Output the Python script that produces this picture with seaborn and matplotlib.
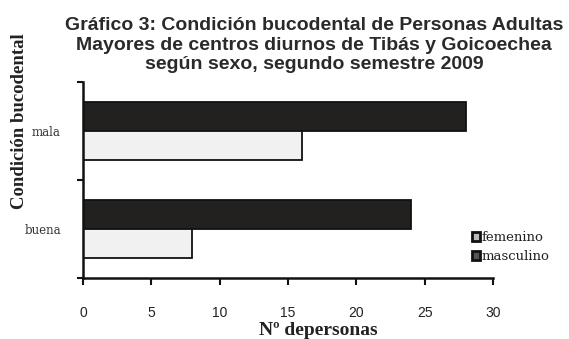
import matplotlib
matplotlib.use("Agg")
import matplotlib.pyplot as plt
from matplotlib.patches import Patch
import seaborn as sns
import pandas as pd

# Data
condiciones = ["mala", "buena"]
sexos = ["masculino", "femenino"]
masculino = [28, 24]
femenino = [16, 8]
x_ticks = [0, 5, 10, 15, 20, 25, 30]
titulo = ["Gráfico 3: Condición bucodental de Personas Adultas",
          "Mayores de centros diurnos de Tibás y Goicoechea",
          "según sexo, segundo semestre 2009"]

df = pd.DataFrame({
    "condicion": condiciones * 2,
    "sexo": ["masculino"] * 2 + ["femenino"] * 2,
    "valor": masculino + femenino,
})

sns.set_theme(style="white")
plt.rcParams["font.family"] = ["Liberation Sans", "DejaVu Sans"]

W, H = 569, 339
fig = plt.figure(figsize=(W / 100, H / 100), dpi=100)
ax = fig.add_axes([83 / W, 1 - 278 / H, (493 - 83) / W, (278 - 82) / H])

colores = {"masculino": "#231f20", "femenino": "#f1f1f1"}
sns.barplot(data=df, y="condicion", x="valor", hue="sexo",
            order=condiciones, hue_order=sexos, palette=colores,
            orient="h", width=0.6, edgecolor="#111111", linewidth=1.3,
            legend=False, ax=ax)

ax.set_xlim(0, 30)
ax.set_ylim(1.5, -0.5)
ax.set_xticks(x_ticks)
ax.set_xticklabels([str(t) for t in x_ticks], fontsize=10, color="#222222")
ax.tick_params(axis="x", length=5, width=1.5, direction="out", pad=15,
               color="#111111", bottom=True)
ax.set_yticks([0, 1])
ax.set_yticklabels(condiciones, family="DejaVu Serif", fontsize=8.5, color="#333333")
ax.tick_params(axis="y", which="major", length=0, pad=16)
ax.set_yticks([-0.5, 0.5, 1.5], minor=True)
ax.tick_params(axis="y", which="minor", length=4, width=1.5, color="#111111", left=True)

for s in ["top", "right"]:
    ax.spines[s].set_visible(False)
for s in ["left", "bottom"]:
    ax.spines[s].set_color("#111111")
    ax.spines[s].set_linewidth(1.8)

ax.set_xlabel("")
ax.set_ylabel("")
fig.text(318 / W, 1 - 335 / H, "Nº depersonas", family="Liberation Serif",
         fontweight="bold", fontsize=14, color="#222222", ha="center", va="baseline")
fig.text(20 / W, 1 - 121 / H, "Condición bucodental", rotation=90,
         family="Liberation Serif", fontweight="bold", fontsize=13.5,
         color="#222222", ha="center", va="center")

for linea, base in zip(titulo, [30, 49.5, 69]):
    fig.text(314 / W, 1 - base / H, linea, ha="center", va="baseline",
             fontweight="bold", fontsize=14, color="#2a2a2a")

handles = [Patch(facecolor="#bbbbbb", edgecolor="#111111", linewidth=2, label="femenino"),
           Patch(facecolor="#555555", edgecolor="#111111", linewidth=2, label="masculino")]
fig.legend(handles=handles, loc="center left", bbox_to_anchor=(472 / W, 1 - 247 / H),
           frameon=False, prop={"family": "DejaVu Serif", "size": 9.5},
           labelcolor="#222222",
           handlelength=0.6, handleheight=0.6, handletextpad=0.15, labelspacing=0.45,
           borderpad=0, borderaxespad=0)

fig.savefig("out.png", dpi=100, facecolor="white")
